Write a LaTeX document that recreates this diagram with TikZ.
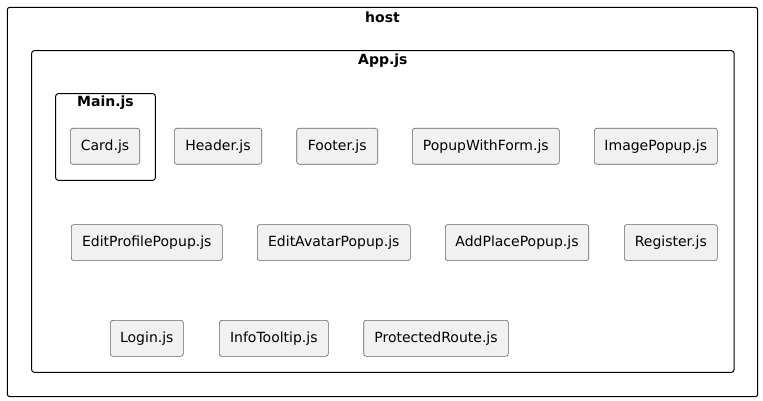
\documentclass[tikz,border=0pt]{standalone}
\usepackage{fontspec}
\setmainfont{DejaVu Sans}
\begin{document}
\begin{tikzpicture}[x=1pt,y=-1pt,
  comp/.style={draw=black!62, line width=0.6pt, fill=black!5.5, rounded corners=2.5pt, minimum height=36pt, inner sep=0pt, font=\fontsize{14}{16}\selectfont},
  frame/.style={draw=black, line width=1pt, rounded corners=2.5pt, inner sep=0pt},
  ftitle/.style={font=\fontsize{14}{16}\selectfont\bfseries, inner sep=0pt, anchor=center}]
\useasboundingbox (0,0) rectangle (763,401);
\node[frame, minimum width=750.4pt, minimum height=389.4pt] (host) at (382.5,202) {};
\node[ftitle] (hostt) at (382.5,17.5) {host};
\node[frame, minimum width=702.3pt, minimum height=321.6pt] (app) at (382.85,211.5) {};
\node[ftitle] (appt) at (382.85,61) {App.js};
\node[frame, minimum width=99.6pt, minimum height=86.6pt] (main) at (105.5,137) {};
\node[ftitle] (maint) at (105.5,103) {Main.js};
% row 1
\node[comp, minimum width=69.4pt] (card) at (105,146.3) {Card.js};
\node[comp, minimum width=87.4pt] (header) at (218,146.3) {Header.js};
\node[comp, minimum width=81pt] (footer) at (337.2,146.3) {Footer.js};
\node[comp, minimum width=147pt] (pwf) at (485.8,146.3) {PopupWithForm.js};
\node[comp, minimum width=123pt] (img) at (655.8,146.3) {ImagePopup.js};
% row 2
\node[comp, minimum width=151pt] (epp) at (146.8,242.6) {EditProfilePopup.js};
\node[comp, minimum width=153pt] (eap) at (333.8,242.6) {EditAvatarPopup.js};
\node[comp, minimum width=143.4pt] (app2) at (517,242.6) {AddPlacePopup.js};
\node[comp, minimum width=93pt] (reg) at (670.8,242.6) {Register.js};
% row 3
\node[comp, minimum width=73pt] (login) at (146.8,338.3) {Login.js};
\node[comp, minimum width=109pt] (info) at (273.8,338.3) {InfoTooltip.js};
\node[comp, minimum width=144.6pt] (prot) at (436,338.3) {ProtectedRoute.js};
\end{tikzpicture}
\end{document}
